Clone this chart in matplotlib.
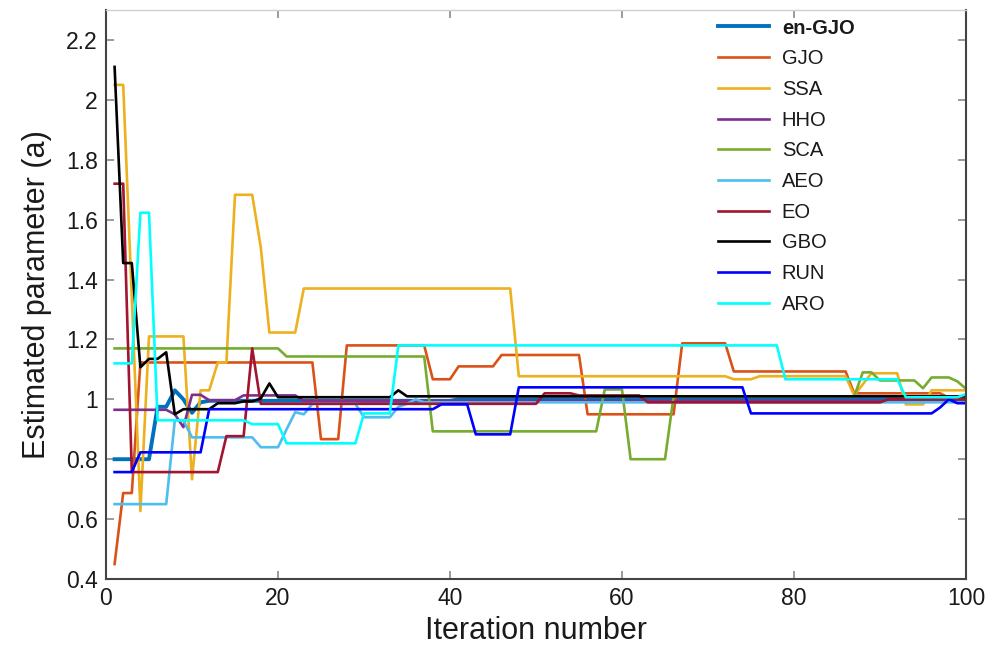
import numpy as np
import matplotlib
matplotlib.use("Agg")
import matplotlib.pyplot as plt

plt.rcParams['font.family'] = ['Liberation Sans', 'DejaVu Sans']

iterations = np.arange(1, 101)

# values, one per iteration (run-length written)
en_gjo = [0.80]*5 + [0.975, 0.975, 1.03, 1.0, 0.955, 0.99] + [0.995]*29 + [1.0]*60
gjo = ([0.45] + [0.687]*2 + [1.123]*21 + [0.867]*3 + [1.18]*10 + [1.067]*3 + [1.11]*5
       + [1.148]*10 + [0.95]*11 + [1.187]*6 + [1.093]*14 + [1.02]*11 + [1.005]*3)
ssa = ([2.05]*2 + [1.34] + [0.627] + [1.21]*5 + [0.733] + [1.03]*2 + [1.123]*2 + [1.683]*3
       + [1.507] + [1.223]*4 + [1.37]*25 + [1.077]*25 + [1.067]*3 + [1.077]*11 + [1.013]
       + [1.05] + [1.087]*4 + [0.983]*3 + [1.03]*5)
hho = [0.965]*7 + [0.95] + [0.907] + [1.015]*2 + [0.997]*4 + [1.013]*7 + [0.995]*78
sca = ([1.17]*20 + [1.143]*17 + [0.893]*20 + [1.033]*3 + [0.80]*5 + [1.01]*22 + [1.09]*2
       + [1.063]*5 + [1.037] + [1.073]*3 + [1.06] + [1.035])
aeo = ([0.65]*7 + [0.93]*2 + [0.873]*8 + [0.84]*3 + [0.90] + [0.957] + [0.95] + [0.985]*6
       + [0.94]*4 + [0.975] + [0.985] + [1.0] + [0.99]*64)
eo = [1.72]*2 + [0.757]*11 + [0.877]*3 + [1.17] + [0.985]*33 + [1.02]*4 + [1.013]*8 + [0.99]*28 + [1.0]*10
gbo = ([2.11] + [1.455]*2 + [1.107] + [1.135]*2 + [1.157] + [0.95] + [0.967]*4 + [0.987]*3
       + [0.993]*2 + [1.003] + [1.053] + [1.007]*14 + [1.03] + [1.01]*66)
run = [0.757]*3 + [0.823]*8 + [0.967]*27 + [0.983]*4 + [0.883]*5 + [1.04]*27 + [0.953]*22 + [0.973, 1.0, 0.987, 0.987]
aro = [1.12]*3 + [1.623]*2 + [0.93]*11 + [0.917]*4 + [0.853]*9 + [0.953]*4 + [1.18]*45 + [1.067]*14 + [1.007]*7 + [1.017]

names = ['en-GJO', 'GJO', 'SSA', 'HHO', 'SCA', 'AEO', 'EO', 'GBO', 'RUN', 'ARO']
series = [en_gjo, gjo, ssa, hho, sca, aeo, eo, gbo, run, aro]
colors = ['#0072BD', '#D95319', '#EDB120', '#7E2F8E', '#77AC30',
          '#4DBEEE', '#A2142F', '#000000', '#0000FF', '#00FFFF']

fig = plt.figure(figsize=(10.03, 6.61), dpi=100)
ax = fig.add_axes([106/1003, 1 - 579/661, 860/1003, 569/661])

for name, ys, c in zip(names, series, colors):
    lw = 2.8 if name == 'en-GJO' else 1.9
    ax.plot(iterations, ys, color=c, lw=lw, label=name)

ax.set_xlim(0, 100)
ax.set_ylim(0.4, 2.3)
ax.set_xticks(np.arange(0, 101, 20))
yt = np.round(np.arange(0.4, 2.21, 0.2), 1)
ax.set_yticks(yt)
ax.set_yticklabels([('%g' % v) for v in yt])
ax.tick_params(direction='in', length=6, width=1.1, color='#808080', labelcolor='#1a1a1a',
               labelsize=16.5, top=True, right=True, pad=6)
for s in ['left', 'bottom', 'right']:
    ax.spines[s].set_color('#444444')
    ax.spines[s].set_linewidth(1.5)
ax.spines['top'].set_color('#d0d0d0')
ax.spines['top'].set_linewidth(1.0)

ax.set_xlabel('Iteration number', fontsize=22, color='#1a1a1a', labelpad=4)
ax.set_ylabel('Estimated parameter (a)', fontsize=22, color='#1a1a1a', labelpad=10)

leg = ax.legend(loc='upper left', bbox_to_anchor=(0.712, 0.985), frameon=False,
                fontsize=14.5, handlelength=2.5, handletextpad=0.65,
                labelspacing=0.58, borderpad=0, borderaxespad=0)
for t in leg.get_texts():
    t.set_color('#1a1a1a')
leg.get_texts()[0].set_fontweight('bold')

fig.savefig('out.png', dpi=100)
